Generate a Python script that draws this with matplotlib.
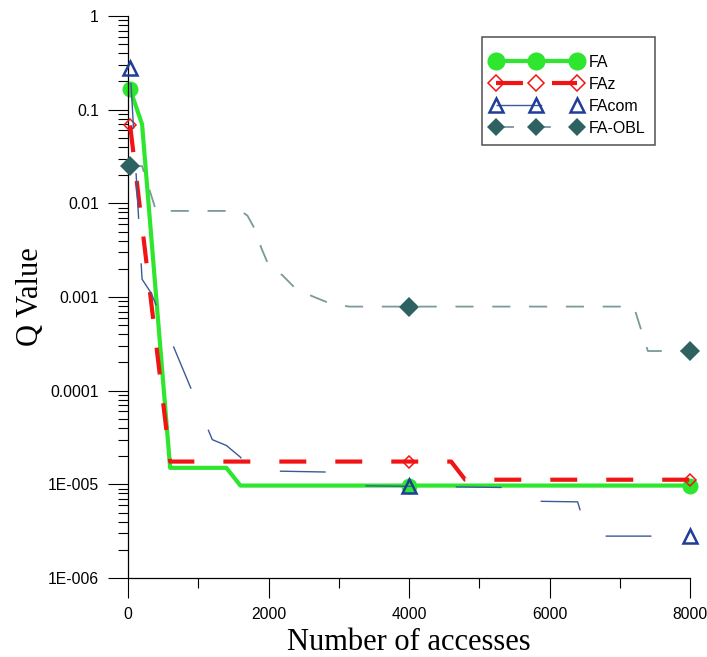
import matplotlib
matplotlib.use("Agg")
import matplotlib.pyplot as plt
from matplotlib.lines import Line2D
from matplotlib.patches import Rectangle
from matplotlib.ticker import FixedLocator, FixedFormatter, LogLocator, NullFormatter

plt.rcParams['lines.scale_dashes'] = False
plt.rcParams['font.family'] = ['Liberation Sans', 'DejaVu Sans']

# ---- data ----
fa_x = [30, 200, 600, 1400, 1600, 8000]
fa_y = [0.165, 0.07, 1.5e-5, 1.5e-5, 9.7e-6, 9.7e-6]
fa_mx = [30, 4000, 8000]
fa_my = [0.165, 9.7e-6, 9.7e-6]

faz_x = [30, 600, 4600, 4800, 8000]
faz_y = [0.068, 1.75e-5, 1.75e-5, 1.12e-5, 1.12e-5]
faz_mx = [30, 4000, 8000]
faz_my = [0.068, 1.75e-5, 1.12e-5]

facom_x = [30, 200, 330, 1200, 1400, 1600, 1750, 2900, 3150, 5600, 5800, 6400, 6550, 8000]
facom_y = [0.28, 1.55e-3, 1.1e-3, 3.0e-5, 2.6e-5, 1.95e-5, 1.4e-5, 1.35e-5, 9.7e-6,
           9.2e-6, 6.6e-6, 6.5e-6, 2.8e-6, 2.8e-6]
facom_mx = [30, 4000, 8000]
facom_my = [0.28, 9.6e-6, 2.8e-6]

obl_x = [30, 200, 400, 1600, 1700, 1800, 1900, 2000, 2200, 2400, 2650, 2900, 3150, 7200, 7400, 8000]
obl_y = [0.025, 0.025, 8.3e-3, 8.3e-3, 7.4e-3, 5.4e-3, 3.3e-3, 2.2e-3, 1.7e-3, 1.2e-3,
         1.0e-3, 8.4e-4, 7.9e-4, 7.9e-4, 2.65e-4, 2.65e-4]
obl_mx = [30, 4000, 8000]
obl_my = [0.025, 7.9e-4, 2.65e-4]

series_names = ['FA', 'FAz', 'FAcom', 'FA-OBL']
x_ticks = [0, 2000, 4000, 6000, 8000]
x_tick_labels = ['0', '2000', '4000', '6000', '8000']
y_ticks = [1e-6, 1e-5, 1e-4, 1e-3, 1e-2, 1e-1, 1]
y_tick_labels = ['1E-006', '1E-005', '0.0001', '0.001', '0.01', '0.1', '1']

# ---- styles ----
c_fa = '#2ee62e'
c_faz = '#f01414'
c_com_m = '#1f3d99'
c_com_l = '#3c5a96'
c_obl_m = '#2e6262'
c_obl_l = '#7b9999'

st_fa = dict(color=c_fa, lw=3.0, ls='-')
st_faz = dict(color=c_faz, lw=3.0, ls=(0, (19.4, 20.9)))
st_com = dict(color=c_com_l, lw=1.0, ls=(54, (33, 32)))
st_obl = dict(color=c_obl_l, lw=1.3, ls=(0, (13, 13.5)))
st_com_leg = dict(st_com, ls=(0, (33, 32)))

mk_fa = dict(marker='o', ms=11.5, mfc=c_fa, mec=c_fa, mew=0)
mk_faz = dict(marker='D', ms=6.4, mfc='none', mec=c_faz, mew=1.1)
mk_com = dict(marker='^', ms=10, mfc='none', mec=c_com_m, mew=1.8)
mk_obl = dict(marker='D', ms=10, mfc=c_obl_m, mec=c_obl_m, mew=0)

fig = plt.figure(figsize=(7.07, 6.57), dpi=100)
ax = fig.add_axes([128/707, 1-578/657, (690-128)/707, (578-16)/657])

ax.plot(fa_x, fa_y, **st_fa, zorder=2)
ax.plot(fa_mx, fa_my, ls='none', **mk_fa, zorder=2.1, clip_on=False)
ax.plot(faz_x, faz_y, **st_faz, zorder=3)
ax.plot(faz_mx, faz_my, ls='none', **mk_faz, zorder=3.1, clip_on=False)
ax.plot(facom_x, facom_y, **st_com, zorder=4)
ax.plot(facom_mx, facom_my, ls='none', **mk_com, zorder=4.1, clip_on=False)
ax.plot(obl_x, obl_y, **st_obl, zorder=5)
ax.plot(obl_mx, obl_my, ls='none', **mk_obl, zorder=5.1, clip_on=False)

ax.set_yscale('log')
ax.set_xlim(0, 8000)
ax.set_ylim(1e-6, 1)

ax.spines['top'].set_visible(False)
ax.spines['right'].set_visible(False)
for s in ('left', 'bottom'):
    ax.spines[s].set_linewidth(0.9)

ax.xaxis.set_major_locator(FixedLocator(x_ticks))
ax.xaxis.set_major_formatter(FixedFormatter(x_tick_labels))
ax.xaxis.set_minor_locator(FixedLocator([1000, 3000, 5000, 7000]))
ax.yaxis.set_major_locator(FixedLocator(y_ticks))
ax.yaxis.set_major_formatter(FixedFormatter(y_tick_labels))
ax.yaxis.set_minor_locator(LogLocator(base=10, subs=range(2, 10), numticks=20))
ax.yaxis.set_minor_formatter(NullFormatter())

ax.tick_params(which='major', direction='out', length=14.4, width=0.8, labelsize=11.3, pad=6.5)
ax.tick_params(which='minor', direction='out', length=7.2, width=0.8)
ax.tick_params(axis='x', which='major', pad=6.5)

fig.text(409/707, 1-650/657, 'Number of accesses', family='Liberation Serif', fontsize=22,
         ha='center', va='baseline')
fig.text(38/707, 1-297/657, 'Q Value', family='Liberation Serif', fontsize=22,
         ha='center', va='baseline', rotation=90, rotation_mode='anchor')

leg_mk_fa = dict(mk_fa, ms=13)
leg_mk_faz = dict(mk_faz, ms=8.3)
leg_mk_com = dict(mk_com, ms=10.5)
leg_mk_obl = dict(mk_obl, ms=8.7)
handles = [
    Line2D([], [], **st_fa, **leg_mk_fa),
    Line2D([], [], **st_faz, **leg_mk_faz),
    Line2D([], [], **st_com_leg, **leg_mk_com),
    Line2D([], [], **st_obl, **leg_mk_obl),
]
leg = fig.legend(handles, series_names, loc='upper left',
                 bbox_to_anchor=(491.2/707, 1-54.6/657), frameon=False, fontsize=11.5,
                 numpoints=3, handlelength=5.65, handletextpad=0.45, labelspacing=0.44,
                 borderpad=0, borderaxespad=0)
fig.add_artist(Rectangle((482/707, 1-145/657), 173/707, 108/657, transform=fig.transFigure,
                         fill=False, edgecolor='#505050', lw=1.1))

fig.savefig('out.png', dpi=100)
